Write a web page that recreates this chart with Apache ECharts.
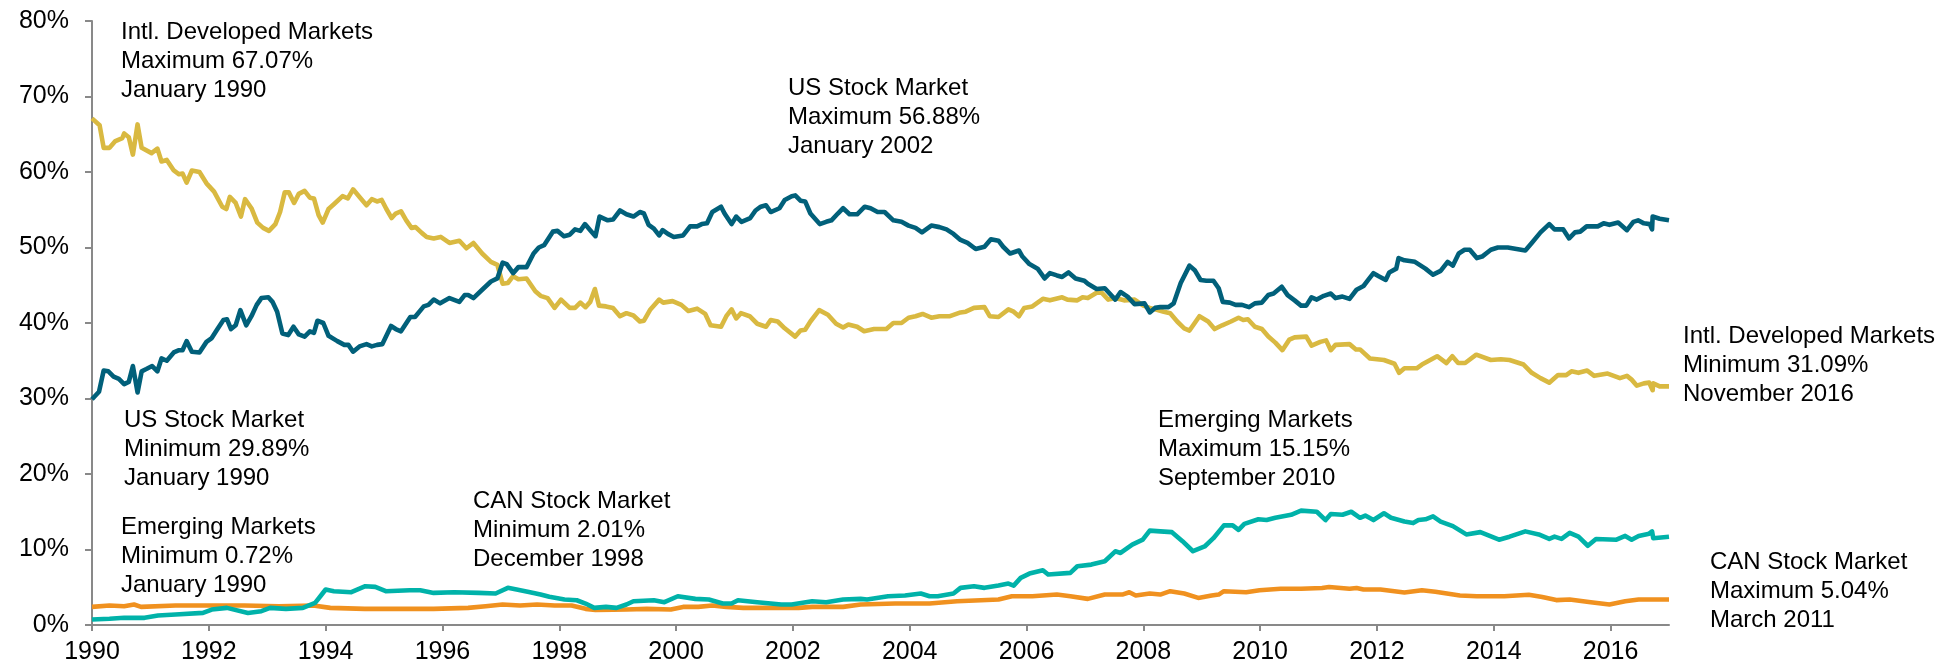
<!DOCTYPE html>
<html>
<head>
<meta charset="utf-8">
<script src="https://cdn.jsdelivr.net/npm/echarts@6/dist/echarts.min.js"></script>
<style>
  html, body { margin: 0; padding: 0; background: #fff; }
  #chart { width: 1946px; height: 670px; }
</style>
</head>
<body>
<div id="chart"></div>
<script>
// [decimal year, share %]
const usData = [
  [1990.00, 29.9], [1990.12, 30.9], [1990.20, 33.7], [1990.28, 33.6], [1990.37, 32.9], [1990.46, 32.6],
  [1990.55, 31.9], [1990.63, 32.2], [1990.70, 34.3], [1990.78, 30.8], [1990.85, 33.6], [1990.93, 33.9],
  [1991.03, 34.3], [1991.12, 33.6], [1991.19, 35.3], [1991.28, 35.0], [1991.40, 36.1], [1991.49, 36.4],
  [1991.55, 36.4], [1991.62, 37.6], [1991.71, 36.2], [1991.84, 36.1], [1991.96, 37.5], [1992.05, 38.0],
  [1992.14, 39.1], [1992.25, 40.4], [1992.31, 40.5], [1992.38, 39.2], [1992.46, 39.7], [1992.54, 41.7],
  [1992.64, 39.7], [1992.73, 40.9], [1992.82, 42.4], [1992.90, 43.3], [1993.02, 43.4], [1993.09, 42.8],
  [1993.17, 41.5], [1993.26, 38.6], [1993.36, 38.4], [1993.45, 39.5], [1993.54, 38.5], [1993.64, 38.2],
  [1993.73, 38.9], [1993.80, 38.7], [1993.86, 40.3], [1993.96, 40.0], [1994.05, 38.3], [1994.20, 37.6],
  [1994.32, 37.1], [1994.39, 37.1], [1994.47, 36.2], [1994.58, 36.9], [1994.70, 37.2], [1994.79, 36.9],
  [1994.88, 37.1], [1994.97, 37.2], [1995.12, 39.6], [1995.20, 39.2], [1995.29, 38.9], [1995.45, 40.8],
  [1995.53, 40.8], [1995.68, 42.2], [1995.76, 42.4], [1995.85, 43.1], [1995.96, 42.6], [1996.12, 43.3],
  [1996.29, 42.8], [1996.38, 43.7], [1996.44, 43.7], [1996.53, 43.3], [1996.68, 44.4], [1996.83, 45.5],
  [1996.94, 45.9], [1997.03, 48.0], [1997.10, 47.8], [1997.21, 46.6], [1997.30, 47.4], [1997.44, 47.4],
  [1997.56, 49.2], [1997.65, 50.0], [1997.74, 50.3], [1997.89, 52.1], [1997.97, 52.2], [1998.08, 51.5],
  [1998.18, 51.7], [1998.27, 52.4], [1998.36, 52.2], [1998.44, 53.1], [1998.53, 52.3], [1998.62, 51.5],
  [1998.69, 54.1], [1998.83, 53.6], [1998.92, 53.7], [1999.04, 54.9], [1999.15, 54.4], [1999.27, 54.1],
  [1999.38, 54.7], [1999.45, 54.5], [1999.53, 53.0], [1999.62, 52.5], [1999.71, 51.6], [1999.77, 52.3],
  [1999.86, 51.8], [1999.96, 51.4], [2000.12, 51.6], [2000.24, 52.8], [2000.36, 52.8], [2000.44, 53.1],
  [2000.53, 53.2], [2000.62, 54.7], [2000.77, 55.4], [2000.83, 54.5], [2000.95, 53.1], [2001.03, 54.1],
  [2001.12, 53.4], [2001.27, 53.9], [2001.36, 54.9], [2001.45, 55.4], [2001.54, 55.6], [2001.62, 54.7],
  [2001.77, 55.2], [2001.86, 56.3], [2001.98, 56.8], [2002.04, 56.9], [2002.13, 56.2], [2002.21, 56.1],
  [2002.30, 54.5], [2002.46, 53.1], [2002.57, 53.4], [2002.66, 53.6], [2002.77, 54.5], [2002.86, 55.2],
  [2002.97, 54.4], [2003.10, 54.4], [2003.23, 55.4], [2003.33, 55.2], [2003.45, 54.7], [2003.57, 54.7],
  [2003.72, 53.6], [2003.86, 53.4], [2003.98, 52.9], [2004.10, 52.6], [2004.21, 52.0], [2004.37, 52.9],
  [2004.51, 52.7], [2004.63, 52.4], [2004.75, 51.8], [2004.87, 51.0], [2004.99, 50.6], [2005.13, 49.8],
  [2005.28, 50.1], [2005.39, 51.1], [2005.52, 50.9], [2005.60, 50.1], [2005.72, 49.2], [2005.87, 49.6],
  [2005.93, 48.8], [2006.05, 47.8], [2006.19, 47.2], [2006.31, 45.9], [2006.40, 46.6], [2006.52, 46.3],
  [2006.61, 46.1], [2006.72, 46.7], [2006.84, 45.9], [2006.99, 45.6], [2007.05, 45.2], [2007.20, 44.5],
  [2007.34, 44.6], [2007.52, 43.1], [2007.61, 44.1], [2007.73, 43.5], [2007.85, 42.5], [2008.02, 42.6],
  [2008.11, 41.4], [2008.20, 42.0], [2008.29, 42.1], [2008.43, 42.1], [2008.52, 42.6], [2008.64, 45.3],
  [2008.79, 47.6], [2008.88, 47.0], [2008.98, 45.7], [2009.08, 45.6], [2009.20, 45.6], [2009.29, 44.6],
  [2009.36, 42.8], [2009.48, 42.7], [2009.58, 42.4], [2009.69, 42.4], [2009.81, 42.1], [2009.91, 42.6],
  [2010.03, 42.7], [2010.14, 43.7], [2010.23, 43.9], [2010.37, 44.8], [2010.47, 43.7], [2010.59, 43.0],
  [2010.70, 42.3], [2010.79, 42.3], [2010.88, 43.4], [2010.97, 43.1], [2011.09, 43.6], [2011.21, 43.9],
  [2011.29, 43.3], [2011.41, 43.5], [2011.53, 43.2], [2011.65, 44.4], [2011.77, 44.9], [2011.85, 45.7],
  [2011.94, 46.6], [2012.03, 46.2], [2012.15, 45.7], [2012.21, 46.7], [2012.33, 47.2], [2012.37, 48.6],
  [2012.47, 48.3], [2012.65, 48.1], [2012.83, 47.2], [2012.96, 46.4], [2013.09, 46.9], [2013.21, 48.1],
  [2013.30, 47.6], [2013.40, 49.2], [2013.50, 49.7], [2013.59, 49.7], [2013.71, 48.6], [2013.80, 48.8],
  [2013.95, 49.7], [2014.07, 50.0], [2014.24, 50.0], [2014.39, 49.8], [2014.54, 49.6], [2014.65, 50.6],
  [2014.80, 52.0], [2014.95, 53.1], [2015.04, 52.4], [2015.19, 52.4], [2015.29, 51.2], [2015.39, 52.0],
  [2015.48, 52.1], [2015.59, 52.8], [2015.78, 52.8], [2015.88, 53.2], [2015.98, 53.0], [2016.13, 53.3],
  [2016.28, 52.3], [2016.39, 53.4], [2016.47, 53.6], [2016.57, 53.2], [2016.67, 53.1], [2016.71, 52.4],
  [2016.72, 54.1], [2016.84, 53.8], [2017.00, 53.6]
]

const intlData = [
  [1990.00, 67.1], [1990.13, 66.2], [1990.20, 63.2], [1990.30, 63.2], [1990.40, 64.1], [1990.52, 64.5],
  [1990.55, 65.1], [1990.63, 64.6], [1990.70, 62.3], [1990.78, 66.3], [1990.85, 63.2], [1991.02, 62.5],
  [1991.12, 63.1], [1991.19, 61.4], [1991.28, 61.6], [1991.40, 60.2], [1991.49, 59.7], [1991.55, 59.8],
  [1991.62, 58.6], [1991.71, 60.2], [1991.84, 60.0], [1991.96, 58.5], [1992.09, 57.4], [1992.23, 55.4],
  [1992.30, 55.1], [1992.36, 56.7], [1992.46, 55.9], [1992.55, 54.1], [1992.62, 56.4], [1992.73, 55.2],
  [1992.83, 53.3], [1992.93, 52.6], [1993.03, 52.2], [1993.14, 53.1], [1993.22, 54.7], [1993.30, 57.3],
  [1993.37, 57.3], [1993.46, 55.9], [1993.54, 57.1], [1993.64, 57.5], [1993.73, 56.6], [1993.80, 56.5],
  [1993.88, 54.3], [1993.95, 53.3], [1994.05, 55.1], [1994.15, 55.8], [1994.29, 56.8], [1994.38, 56.5],
  [1994.47, 57.7], [1994.58, 56.7], [1994.70, 55.6], [1994.79, 56.4], [1994.88, 56.1], [1994.96, 56.3],
  [1995.04, 55.1], [1995.13, 53.9], [1995.20, 54.5], [1995.29, 54.8], [1995.38, 53.6], [1995.47, 52.6],
  [1995.54, 52.7], [1995.65, 51.9], [1995.73, 51.4], [1995.85, 51.2], [1995.97, 51.4], [1996.12, 50.6],
  [1996.29, 50.9], [1996.41, 49.9], [1996.53, 50.6], [1996.68, 49.2], [1996.83, 48.1], [1996.94, 47.7],
  [1997.03, 45.2], [1997.12, 45.3], [1997.21, 46.2], [1997.30, 45.8], [1997.44, 45.9], [1997.59, 44.2],
  [1997.68, 43.6], [1997.80, 43.3], [1997.92, 42.0], [1998.03, 43.1], [1998.18, 42.0], [1998.27, 42.0],
  [1998.36, 42.7], [1998.45, 42.1], [1998.53, 42.8], [1998.61, 44.5], [1998.68, 42.3], [1998.80, 42.2],
  [1998.92, 42.0], [1999.04, 40.9], [1999.15, 41.3], [1999.27, 41.0], [1999.38, 40.2], [1999.45, 40.3],
  [1999.56, 41.8], [1999.71, 43.1], [1999.78, 42.7], [1999.94, 42.9], [2000.09, 42.4], [2000.21, 41.6],
  [2000.36, 41.9], [2000.50, 41.2], [2000.59, 39.7], [2000.77, 39.5], [2000.86, 40.9], [2000.95, 41.8],
  [2001.03, 40.6], [2001.11, 41.3], [2001.26, 40.9], [2001.39, 39.9], [2001.54, 39.5], [2001.62, 40.4],
  [2001.74, 40.2], [2001.86, 39.3], [2002.04, 38.2], [2002.13, 39.0], [2002.21, 39.1], [2002.30, 40.2],
  [2002.45, 41.7], [2002.60, 41.1], [2002.74, 39.9], [2002.86, 39.4], [2002.95, 39.8], [2003.10, 39.5],
  [2003.22, 38.9], [2003.39, 39.2], [2003.60, 39.2], [2003.72, 40.0], [2003.86, 40.0], [2003.98, 40.7],
  [2004.10, 40.9], [2004.22, 41.2], [2004.37, 40.7], [2004.51, 40.9], [2004.69, 40.9], [2004.87, 41.4],
  [2004.96, 41.5], [2005.10, 42.0], [2005.28, 42.1], [2005.37, 40.9], [2005.52, 40.8], [2005.69, 41.8],
  [2005.78, 41.5], [2005.87, 40.9], [2005.96, 42.0], [2006.10, 42.2], [2006.28, 43.2], [2006.40, 43.0],
  [2006.61, 43.4], [2006.70, 43.1], [2006.87, 43.0], [2006.96, 43.4], [2007.05, 43.3], [2007.20, 44.0],
  [2007.29, 44.0], [2007.40, 43.1], [2007.52, 43.3], [2007.67, 43.0], [2007.85, 43.1], [2008.00, 42.3],
  [2008.11, 42.0], [2008.35, 41.5], [2008.46, 41.3], [2008.58, 40.2], [2008.70, 39.3], [2008.79, 39.0],
  [2008.88, 40.0], [2008.96, 40.9], [2009.11, 40.2], [2009.22, 39.2], [2009.35, 39.7], [2009.50, 40.2],
  [2009.63, 40.7], [2009.71, 40.4], [2009.79, 40.5], [2009.91, 39.5], [2010.03, 39.2], [2010.14, 38.2],
  [2010.26, 37.4], [2010.38, 36.4], [2010.50, 37.8], [2010.59, 38.1], [2010.79, 38.2], [2010.88, 37.0],
  [2011.03, 37.5], [2011.13, 37.7], [2011.21, 36.4], [2011.29, 37.1], [2011.53, 37.2], [2011.64, 36.5],
  [2011.71, 36.5], [2011.88, 35.3], [2012.12, 35.1], [2012.30, 34.6], [2012.38, 33.4], [2012.47, 34.0],
  [2012.68, 34.0], [2012.77, 34.5], [2013.03, 35.6], [2013.19, 34.7], [2013.29, 35.6], [2013.39, 34.7],
  [2013.51, 34.7], [2013.70, 35.8], [2013.95, 35.1], [2014.12, 35.2], [2014.27, 35.1], [2014.51, 34.5],
  [2014.65, 33.4], [2014.80, 32.7], [2014.95, 32.1], [2015.10, 33.1], [2015.24, 33.1], [2015.33, 33.6],
  [2015.45, 33.4], [2015.60, 33.7], [2015.72, 33.0], [2015.95, 33.3], [2016.16, 32.7], [2016.28, 33.0],
  [2016.36, 32.5], [2016.45, 31.7], [2016.57, 32.0], [2016.66, 32.1], [2016.72, 31.1], [2016.73, 32.0],
  [2016.84, 31.6], [2017.00, 31.6]
]

const emData = [
  [1990.00, 0.72], [1990.30, 0.82], [1990.55, 0.95], [1990.90, 0.95], [1991.13, 1.26], [1991.43, 1.39],
  [1991.90, 1.60], [1992.05, 2.05], [1992.31, 2.27], [1992.67, 1.60], [1992.90, 1.83], [1993.05, 2.27],
  [1993.32, 2.14], [1993.61, 2.27], [1993.82, 2.93], [1993.91, 3.81], [1994.00, 4.70], [1994.14, 4.48],
  [1994.44, 4.34], [1994.68, 5.14], [1994.85, 5.05], [1995.03, 4.48], [1995.44, 4.61], [1995.62, 4.61],
  [1995.85, 4.25], [1996.20, 4.34], [1996.62, 4.25], [1996.91, 4.17], [1997.12, 4.92], [1997.27, 4.70],
  [1997.50, 4.34], [1997.68, 4.03], [1997.83, 3.73], [1998.09, 3.37], [1998.30, 3.28], [1998.45, 2.84],
  [1998.60, 2.27], [1998.80, 2.40], [1998.98, 2.27], [1999.15, 2.71], [1999.27, 3.15], [1999.62, 3.28],
  [1999.80, 3.02], [2000.03, 3.81], [2000.33, 3.46], [2000.56, 3.37], [2000.80, 2.84], [2000.95, 2.84],
  [2001.06, 3.28], [2001.39, 3.02], [2001.62, 2.84], [2001.80, 2.71], [2001.98, 2.71], [2002.33, 3.15],
  [2002.57, 3.02], [2002.86, 3.37], [2003.16, 3.46], [2003.27, 3.37], [2003.63, 3.81], [2003.92, 3.90],
  [2004.19, 4.17], [2004.34, 3.81], [2004.48, 3.81], [2004.75, 4.17], [2004.87, 4.92], [2005.10, 5.14],
  [2005.28, 4.92], [2005.52, 5.22], [2005.69, 5.49], [2005.78, 5.22], [2005.90, 6.24], [2006.05, 6.81],
  [2006.28, 7.25], [2006.37, 6.68], [2006.75, 6.90], [2006.87, 7.78], [2007.11, 8.00], [2007.34, 8.44],
  [2007.52, 9.76], [2007.61, 9.54], [2007.81, 10.65], [2007.99, 11.30], [2008.11, 12.5], [2008.29, 12.4],
  [2008.49, 12.3], [2008.67, 11.1], [2008.85, 9.77], [2009.05, 10.4], [2009.20, 11.5], [2009.38, 13.2],
  [2009.53, 13.2], [2009.63, 12.6], [2009.73, 13.4], [2009.97, 14.0], [2010.11, 13.9], [2010.26, 14.2],
  [2010.53, 14.6], [2010.70, 15.15], [2010.97, 15.0], [2011.12, 13.9], [2011.21, 14.7], [2011.41, 14.6],
  [2011.56, 15.0], [2011.71, 14.2], [2011.80, 14.5], [2011.94, 13.9], [2012.12, 14.8], [2012.24, 14.2],
  [2012.47, 13.7], [2012.62, 13.5], [2012.71, 13.9], [2012.83, 14.0], [2012.96, 14.4], [2013.09, 13.7],
  [2013.30, 13.1], [2013.53, 12.0], [2013.77, 12.3], [2014.09, 11.3], [2014.27, 11.7], [2014.54, 12.4],
  [2014.77, 12.0], [2014.95, 11.4], [2015.04, 11.7], [2015.16, 11.4], [2015.30, 12.2], [2015.45, 11.7],
  [2015.61, 10.5], [2015.75, 11.4], [2016.10, 11.3], [2016.25, 11.8], [2016.36, 11.3], [2016.48, 11.8],
  [2016.66, 12.1], [2016.71, 12.4], [2016.73, 11.5], [2017.00, 11.7]
]

const canData = [
  [1990.00, 2.40], [1990.30, 2.58], [1990.55, 2.49], [1990.72, 2.71], [1990.84, 2.40], [1991.43, 2.58],
  [1992.02, 2.58], [1992.61, 2.58], [1993.20, 2.49], [1993.79, 2.58], [1994.08, 2.27], [1994.67, 2.14],
  [1995.26, 2.14], [1995.85, 2.14], [1996.44, 2.27], [1996.74, 2.49], [1997.03, 2.71], [1997.33, 2.58],
  [1997.62, 2.71], [1997.92, 2.58], [1998.21, 2.58], [1998.45, 2.14], [1998.62, 2.00], [1998.92, 2.01],
  [1999.15, 2.05], [1999.50, 2.14], [1999.91, 2.05], [2000.12, 2.40], [2000.38, 2.40], [2000.62, 2.58],
  [2000.86, 2.40], [2001.15, 2.27], [2001.68, 2.27], [2002.10, 2.27], [2002.33, 2.40], [2002.86, 2.40],
  [2003.16, 2.71], [2003.75, 2.84], [2004.34, 2.84], [2004.81, 3.15], [2005.22, 3.28], [2005.52, 3.37],
  [2005.75, 3.81], [2006.10, 3.81], [2006.52, 4.03], [2006.75, 3.81], [2007.05, 3.46], [2007.34, 4.03],
  [2007.64, 4.03], [2007.76, 4.34], [2007.87, 3.90], [2008.11, 4.17], [2008.29, 4.03], [2008.46, 4.48],
  [2008.70, 4.17], [2008.94, 3.59], [2009.17, 3.90], [2009.29, 4.03], [2009.38, 4.48], [2009.76, 4.34],
  [2009.99, 4.61], [2010.35, 4.80], [2010.70, 4.80], [2011.06, 4.90], [2011.18, 5.04], [2011.53, 4.80],
  [2011.65, 4.90], [2011.77, 4.70], [2012.06, 4.70], [2012.47, 4.30], [2012.77, 4.60], [2013.00, 4.40],
  [2013.42, 3.90], [2013.71, 3.80], [2014.18, 3.80], [2014.60, 4.00], [2014.83, 3.70], [2015.07, 3.30],
  [2015.30, 3.37], [2015.66, 3.02], [2015.98, 2.71], [2016.25, 3.15], [2016.48, 3.37], [2016.72, 3.37],
  [2017.00, 3.37]
]

const yearTicks = [1990, 1992, 1994, 1996, 1998, 2000, 2002, 2004, 2006, 2008, 2010, 2012, 2014, 2016]

const noteIntlMax = ['Intl. Developed Markets', 'Maximum 67.07%', 'January 1990']
const noteUsMin = ['US Stock Market', 'Minimum 29.89%', 'January 1990']
const noteEmMin = ['Emerging Markets', 'Minimum 0.72%', 'January 1990']
const noteCanMin = ['CAN Stock Market', 'Minimum 2.01%', 'December 1998']
const noteUsMax = ['US Stock Market', 'Maximum 56.88%', 'January 2002']
const noteEmMax = ['Emerging Markets', 'Maximum 15.15%', 'September 2010']
const noteIntlMin = ['Intl. Developed Markets', 'Minimum 31.09%', 'November 2016']
const noteCanMax = ['CAN Stock Market', 'Maximum 5.04%', 'March 2011']

const FONT = '"Liberation Sans", Arial, sans-serif'

function note(lines, x, y) {
  return {
    type: 'text',
    x: x,
    y: y,
    style: {
      text: lines.join('\n'),
      font: '24px ' + FONT,
      fill: '#000',
      lineHeight: 29,
      verticalAlign: 'top',
      align: 'left'
    }
  }
}

function line(name, data, color) {
  return {
    name: name,
    type: 'line',
    data: data,
    showSymbol: false,
    symbol: 'none',
    lineStyle: { width: 4.6, color: color, join: 'round' },
    itemStyle: { color: color }
  }
}

const chart = echarts.init(document.getElementById('chart'))

chart.setOption({
  animation: false,
  backgroundColor: '#fff',
  grid: { left: 92, right: 277, top: 21, bottom: 45 },
  xAxis: {
    type: 'value',
    min: 1990,
    max: 2017,
    interval: 2,
    axisLine: { lineStyle: { color: '#898989', width: 2 } },
    axisTick: { show: true, length: 6, customValues: yearTicks, lineStyle: { color: '#898989', width: 2 } },
    axisLabel: {
      customValues: yearTicks,
      color: '#000',
      fontSize: 25,
      fontFamily: FONT,
      margin: 15,
      formatter: (v) => String(Math.round(v))
    },
    splitLine: { show: false }
  },
  yAxis: {
    type: 'value',
    min: 0,
    max: 80,
    interval: 10,
    axisLine: { show: true, lineStyle: { color: '#898989', width: 2 } },
    axisTick: { show: true, length: 7, lineStyle: { color: '#898989', width: 2 } },
    axisLabel: {
      color: '#000',
      fontSize: 25,
      fontFamily: FONT,
      margin: 23,
      formatter: '{value}%'
    },
    splitLine: { show: false }
  },
  series: [
    line('Intl. Developed Markets', intlData, '#D9B941'),
    line('CAN Stock Market', canData, '#F0911F'),
    line('Emerging Markets', emData, '#00B2A9'),
    line('US Stock Market', usData, '#01607A')
  ],
  graphic: [
    note(noteIntlMax, 121, 18),
    note(noteUsMin, 124, 406),
    note(noteEmMin, 121, 513),
    note(noteCanMin, 473, 487),
    note(noteUsMax, 788, 74),
    note(noteEmMax, 1158, 406),
    note(noteIntlMin, 1683, 322),
    note(noteCanMax, 1710, 548)
  ]
})
</script>
</body>
</html>
